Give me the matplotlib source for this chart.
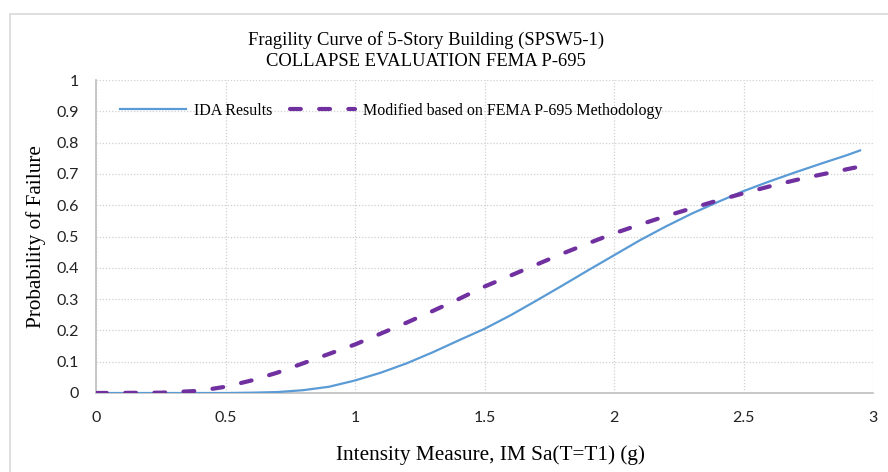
import matplotlib
matplotlib.use("Agg")
import matplotlib.pyplot as plt
from matplotlib.patches import Rectangle

# ── data ──────────────────────────────────────────────────────────────────────
ida_x = [0.0, 0.3, 0.5, 0.6, 0.7, 0.8, 0.9, 1.0, 1.1, 1.2, 1.3, 1.4, 1.5, 1.6,
         1.7, 1.8, 1.9, 2.0, 2.1, 2.2, 2.3, 2.4, 2.5, 2.6, 2.7, 2.8, 2.9, 2.95]
ida_y = [0.0, 0.0, 0.0, 0.001, 0.003, 0.009, 0.02, 0.04, 0.065, 0.095, 0.13,
         0.168, 0.205, 0.248, 0.295, 0.343, 0.392, 0.44, 0.488, 0.532, 0.573,
         0.61, 0.645, 0.676, 0.705, 0.733, 0.76, 0.775]

fema_x = [0.0, 0.25, 0.4, 0.5, 0.6, 0.7, 0.8, 0.9, 1.0, 1.1, 1.2, 1.3, 1.4, 1.5,
          1.6, 1.7, 1.8, 1.9, 2.0, 2.1, 2.2, 2.3, 2.4, 2.5, 2.6, 2.7, 2.8, 2.9, 3.0]
fema_y = [0.0, 0.001, 0.007, 0.02, 0.04, 0.065, 0.095, 0.125, 0.155, 0.19,
          0.225, 0.262, 0.3, 0.34, 0.375, 0.41, 0.445, 0.478, 0.51, 0.538,
          0.565, 0.59, 0.615, 0.638, 0.66, 0.68, 0.698, 0.715, 0.732]

xticks = [0, 0.5, 1, 1.5, 2, 2.5, 3]
xtick_labels = ["0", "0.5", "1", "1.5", "2", "2.5", "3"]
yticks = [0, 0.1, 0.2, 0.3, 0.4, 0.5, 0.6, 0.7, 0.8, 0.9, 1.0]
ytick_labels = ["0", "0.1", "0.2", "0.3", "0.4", "0.5", "0.6", "0.7", "0.8", "0.9", "1"]

SERIF = "Liberation Serif"
SANS = "Lato"

# ── figure ────────────────────────────────────────────────────────────────────
fig = plt.figure(figsize=(8.88, 4.72), dpi=100)
# chart-area frame (cropped at right/bottom like the reference)
fig.patches.append(Rectangle((10 / 888, -0.1), 1.0, 1 - 14 / 472 + 0.1,
                             transform=fig.transFigure, fill=False,
                             edgecolor="#d9d9d9", linewidth=1.2))

ax = fig.add_axes([96 / 888, 1 - 393 / 472, (873 - 96) / 888, (393 - 80) / 472])

ax.plot(ida_x, ida_y, color="#5b9bd5", linewidth=1.6, label="IDA Results", zorder=3)
ax.plot(fema_x, fema_y, color="#7030a0", linewidth=3.0, linestyle=(0, (2.6, 4.4)),
        dash_capstyle="round", label="Modified based on FEMA P-695 Methodology", zorder=3)

ax.set_xlim(0, 3)
ax.set_ylim(0, 1)
ax.set_xticks(xticks)
ax.set_xticklabels(xtick_labels, family=SANS, fontsize=11.5)
ax.set_yticks(yticks)
ax.set_yticklabels(ytick_labels, family=SANS, fontsize=11.5)
ax.tick_params(length=0, colors="#222222")
ax.tick_params(axis="y", pad=12)
ax.tick_params(axis="x", pad=13)

ax.grid(True, color="#d0d0d0", linestyle=(0, (1, 1.5)), linewidth=0.9, zorder=0)
for side in ["top", "right"]:
    ax.spines[side].set_visible(False)
for side in ["left", "bottom"]:
    ax.spines[side].set_color("#bfbfbf")
    ax.spines[side].set_linewidth(1.2)

# axis titles
fig.text(490 / 888, 1 - 455 / 472, "Intensity Measure, IM Sa(T=T1) (g)",
         family=SERIF, fontsize=15.3, ha="center", va="center")
fig.text(36 / 888, 1 - 237 / 472, "Probability of Failure", rotation=90,
         family=SERIF, fontsize=15.3, ha="center", va="center")

# chart title
fig.text(426 / 888, 1 - 40 / 472, "Fragility Curve of 5-Story Building (SPSW5-1)",
         family=SERIF, fontsize=13.4, ha="center", va="center")
fig.text(426 / 888, 1 - 61 / 472, "COLLAPSE EVALUATION FEMA P-695",
         family=SERIF, fontsize=13.4, ha="center", va="center")

ax.legend(loc="center left", bbox_to_anchor=(0.013, 0.902), ncol=2, frameon=False,
          prop={"family": SERIF, "size": 11.5}, handlelength=4.1,
          columnspacing=1.1, handletextpad=0.5)

fig.savefig("out.png", dpi=100, facecolor="white")
